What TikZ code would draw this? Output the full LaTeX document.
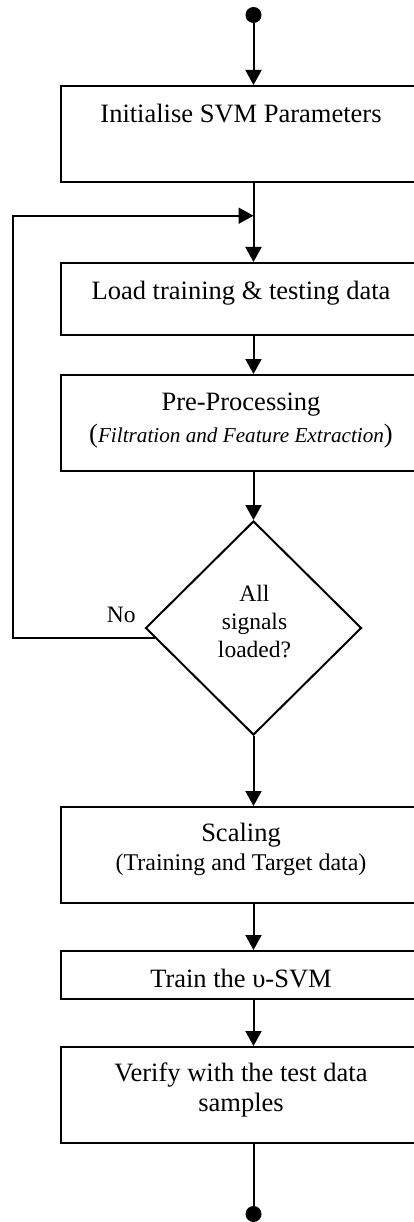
\documentclass[tikz,border=0pt]{standalone}
\usepackage{fontspec}
\setmainfont{Liberation Serif}
\usetikzlibrary{arrows.meta,shapes.geometric}

\begin{document}
\begin{tikzpicture}[x=1pt,y=-1pt,
  box/.style={draw,line width=2pt,rectangle,minimum width=360pt,inner sep=0pt},
  decision/.style={draw,line width=2pt,diamond,minimum width=216pt,minimum height=214pt,inner sep=0pt},
  terminal/.style={fill,circle,minimum size=16pt,inner sep=0pt},
  txt/.style={anchor=base,inner sep=0pt,font=\fontsize{26.5}{30}\selectfont},
  smalltxt/.style={anchor=base,inner sep=0pt,font=\fontsize{23.5}{28}\selectfont},
  flow/.style={line width=2pt,-{Triangle[width=16pt,length=15pt]}},
  wire/.style={line width=2pt}]
\useasboundingbox (0,0) rectangle (414,1222);

% start / end points
\node[terminal] (start) at (253.5,15) {};
\node[terminal] (stop) at (253.5,1214) {};

% process boxes
\node[box,minimum height=96pt] (init) at (241,134) {};
\node[txt] (initT) at (241,123) {Initialise SVM Parameters};

\coordinate (join) at (253.5,215.7);
\coordinate (loopx) at (13.3,0);

\node[box,minimum height=72pt] (load) at (241,299) {};
\node[txt] (loadT) at (241,299.3) {Load training \& testing data};

\node[box,minimum height=96pt] (pre) at (241,423) {};
\node[txt] (preT1) at (241,410) {Pre-Processing};
\node[txt] (preT2) at (241,442) {(\fontsize{21.2}{26}\selectfont\itshape Filtration and Feature Extraction\/\fontsize{26.5}{30}\selectfont\upshape)};

% decision
\node[decision] (dec) at (253.5,628) {};
\node[smalltxt] (decT1) at (254.5,601.7) {All};
\node[smalltxt] (decT2) at (254.5,629) {signals};
\node[smalltxt] (decT3) at (254.5,657) {loaded?};
\node[smalltxt] (no) at (121.3,622.3) {No};

\node[box,minimum height=96pt] (scale) at (241,855) {};
\node[txt] (scaleT1) at (241,841.7) {Scaling};
\node[txt,font=\fontsize{24}{28}\selectfont] (scaleT2) at (241,870) {(Training and Target data)};

\node[box,minimum height=48pt] (train) at (241,975) {};
\node[txt] (trainT) at (241,987.7) {Train the υ-SVM};

\node[box,minimum height=96pt] (verify) at (241,1095) {};
\node[txt] (verT1) at (241,1081.7) {Verify with the test data};
\node[txt] (verT2) at (241,1111.7) {samples};

% connectors
\draw[flow] (start) -- (init.north -| start);
\draw[wire] (init.south -| start) -- (join);
\draw[flow] (join) -- (load.north -| join);
\draw[flow] (load.south -| start) -- (pre.north -| start);
\draw[flow] (pre.south -| start) -- (dec.north);
\draw[flow] (dec.south) -- (scale.north -| start);
\draw[flow] (scale.south -| start) -- (train.north -| start);
\draw[flow] (train.south -| start) -- (verify.north -| start);
\draw[wire] (verify.south -| start) -- (stop);
\draw[flow] (dec.186) -- (dec.186 -| loopx) |- (join);
\end{tikzpicture}
\end{document}
